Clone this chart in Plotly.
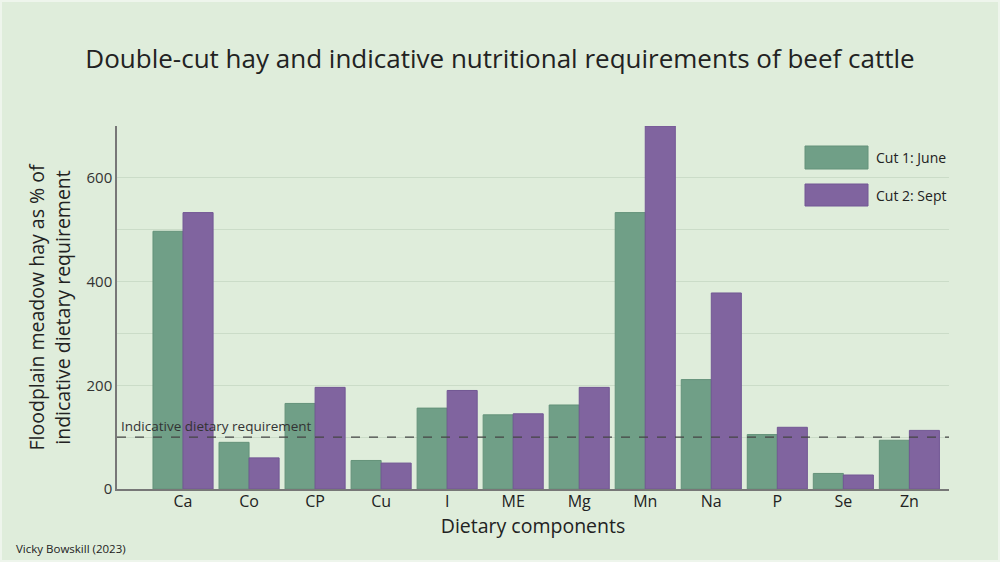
import plotly.graph_objects as go

categories = ["Ca", "Co", "CP", "Cu", "I", "ME", "Mg", "Mn", "Na", "P", "Se", "Zn"]
cut1_june = [497, 90, 165, 55, 156, 143, 162, 533, 211, 105, 30, 94]
cut2_sept = [533, 60, 196, 50, 190, 145, 196, 700, 378, 119, 27, 113]
requirement = 100
y_ticks = [0, 200, 400, 600]

GREEN = "#709f87"
PURPLE = "#80649f"
BG = "#dfeddb"
FONT = "Open Sans"

fig = go.Figure()
fig.add_trace(go.Bar(x=categories, y=cut1_june, name="Cut 1: June",
                     marker=dict(color=GREEN, line=dict(color="#64927a", width=1))))
fig.add_trace(go.Bar(x=categories, y=cut2_sept, name="Cut 2: Sept",
                     marker=dict(color=PURPLE, line=dict(color="#725794", width=1))))

W, H = 1000, 562
ml, mr, mt, mb = 117, 51, 126, 73
pw, ph = W - ml - mr, H - mt - mb

def px(x):
    return (x - ml) / pw

def py(y):
    return (H - mb - y) / ph

shapes = [
    dict(type="line", xref="paper", yref="y", x0=0, x1=1, y0=requirement, y1=requirement,
         line=dict(color="#444444", width=1.3, dash="dash")),
    dict(type="rect", xref="paper", yref="paper", x0=px(805), x1=px(868), y0=py(169), y1=py(146),
         fillcolor=GREEN, line=dict(color="#64927a", width=1)),
    dict(type="rect", xref="paper", yref="paper", x0=px(805), x1=px(868), y0=py(206), y1=py(184),
         fillcolor=PURPLE, line=dict(color="#725794", width=1)),
    dict(type="rect", xref="paper", yref="paper", x0=px(1), x1=px(999), y0=py(561), y1=py(1),
         line=dict(color="#eef5ec", width=2), fillcolor="rgba(0,0,0,0)", layer="above"),
]

annotations = [
    dict(text="Indicative dietary requirement", xref="paper", yref="y", x=px(119), y=requirement,
         xanchor="left", yanchor="bottom", showarrow=False, yshift=0,
         font=dict(family=FONT, size=13.5, color="#333333")),
    dict(text="Cut 1: June", xref="paper", yref="paper", x=px(874), y=py(157.5),
         xanchor="left", yanchor="middle", showarrow=False,
         font=dict(family=FONT, size=14, color="#222222")),
    dict(text="Cut 2: Sept", xref="paper", yref="paper", x=px(874), y=py(195),
         xanchor="left", yanchor="middle", showarrow=False,
         font=dict(family=FONT, size=14, color="#222222")),
    dict(text="Vicky Bowskill (2023)", xref="paper", yref="paper", x=px(14), y=py(548),
         xanchor="left", yanchor="middle", showarrow=False,
         font=dict(family=FONT, size=11.5, color="#222222")),
]

fig.update_layout(
    width=W, height=H,
    margin=dict(l=ml, r=mr, t=mt, b=mb),
    paper_bgcolor=BG, plot_bgcolor=BG,
    barmode="group", bargap=0.09, bargroupgap=0,
    showlegend=False,
    title=dict(text="Double-cut hay and indicative nutritional requirements of beef cattle",
               x=0.5, xref="container", xanchor="center", y=1 - 59 / H, yanchor="middle",
               font=dict(family=FONT, size=26, color="#222222")),
    font=dict(family=FONT, color="#222222"),
    shapes=shapes, annotations=annotations,
    xaxis=dict(range=[-1, 11.6], showline=True, linecolor="#777777", linewidth=1.5,
               ticks="", tickfont=dict(size=16, color="#222222"), showgrid=False,
               ticklabelstandoff=-3,
               title=dict(text="Dietary components", font=dict(size=19.5, color="#222222"), standoff=2)),
    yaxis=dict(range=[0, 700], showline=True, linecolor="#777777", linewidth=1.5,
               tickvals=y_ticks, tickfont=dict(size=15, color="#333333"),
               showgrid=True, gridcolor="#cbdcc8", gridwidth=1, zeroline=False,
               minor=dict(dtick=100, showgrid=True, gridcolor="#cbdcc8", gridwidth=1),
               ticks="", ticklen=0,
               title=dict(text="Floodplain meadow hay as % of<br>indicative dietary requirement",
                          font=dict(size=19.5, color="#222222"), standoff=11)),
)

fig.write_html("out.html", config={"displayModeBar": False},
               post_script="document.body.style.margin='0';document.body.style.padding='0';window.dispatchEvent(new Event('resize'));")
